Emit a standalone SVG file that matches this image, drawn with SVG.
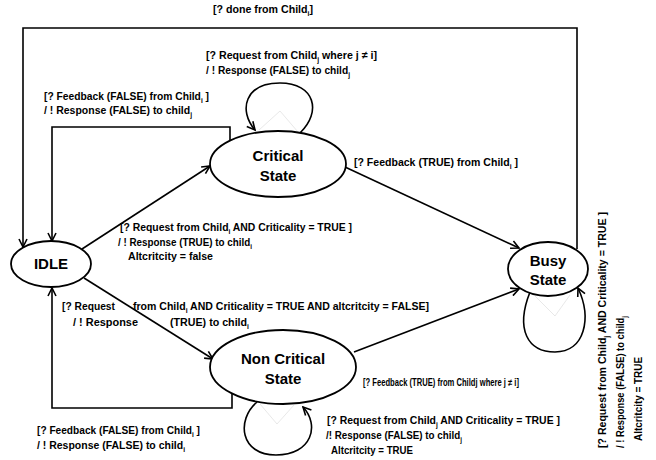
<svg xmlns="http://www.w3.org/2000/svg" width="656" height="460" viewBox="0 0 656 460">
<style>
.node{fill:#fff;stroke:#000;stroke-width:1.8}
.nt{font-family:"Liberation Sans",Arial,sans-serif;font-weight:bold;font-size:15px;text-anchor:middle;fill:#000}
.lb{font-family:"Liberation Sans",Arial,sans-serif;font-weight:bold;font-size:11px;fill:#000}
.s{font-size:7px}
.c{fill:none;stroke:#000;stroke-width:1.6}
.faint{fill:none;stroke:#d8d8d8;stroke-width:0.6}
</style>
<defs>
<marker id="arr" viewBox="0 0 10 10" refX="9" refY="5" markerWidth="10" markerHeight="10" markerUnits="userSpaceOnUse" orient="auto">
<path d="M1,1 L9,5 L1,9" fill="none" stroke="#000" stroke-width="1.6"/>
</marker>
</defs>
<g id="connectors">
<path class="c" d="M577,249 V28 H23 V247" marker-end="url(#arr)"/>
<path class="c" d="M230,141 V127 H52 V241" marker-end="url(#arr)"/>
<path class="c" d="M232,393 V408 H52 V288" marker-end="url(#arr)"/>
<path class="c" d="M82,249 L210,166" marker-end="url(#arr)"/>
<path class="c" d="M84,278 L213,359" marker-end="url(#arr)"/>
<path class="c" d="M345,167 L519,248" marker-end="url(#arr)"/>
<path class="c" d="M354,352 L519,289" marker-end="url(#arr)"/>
<path class="c" d="M300,133 C322,112 315,83 280,83 C245,83 238,110 255,130" marker-end="url(#arr)"/>
<polyline class="faint" points="259,130 280,111 298,132"/>
<path class="c" d="M257,402 C236,420 240,455 276,455 C312,455 320,425 303,407" marker-end="url(#arr)"/>
<polyline class="faint" points="260,404 277,424 294,405"/>
<path class="c" d="M530,292 C515,330 528,352 555,352 C585,352 592,318 578,288" marker-end="url(#arr)"/>
<polyline class="faint" points="535,296 555,316 570,295"/>
</g>
<g id="idle">
<ellipse class="node" cx="51" cy="264" rx="40" ry="23"/>
<text class="nt" x="51" y="269">IDLE</text>
</g>
<g id="critical">
<ellipse class="node" cx="278" cy="164" rx="68" ry="33"/>
<text class="nt" x="278" y="161">Critical</text>
<text class="nt" x="278" y="181">State</text>
</g>
<g id="noncritical">
<ellipse class="node" cx="283" cy="367" rx="73" ry="37"/>
<text class="nt" x="283" y="364">Non Critical</text>
<text class="nt" x="283" y="384">State</text>
</g>
<g id="busy">
<ellipse class="node" cx="548" cy="269" rx="40" ry="27"/>
<text class="nt" x="548" y="266">Busy</text>
<text class="nt" x="548" y="285">State</text>
</g>
<g id="labels">
<text class="lb" x="213" y="13" textLength="100" lengthAdjust="spacingAndGlyphs">[? done from Child<tspan class="s" dy="2.5">i</tspan><tspan dy="-2.5">]</tspan></text>
<text class="lb" x="206" y="59" textLength="171" lengthAdjust="spacingAndGlyphs">[? Request from Child<tspan class="s" dy="2.5">j</tspan><tspan dy="-2.5"> where j ≠ i]</tspan></text>
<text class="lb" x="206" y="74" textLength="144" lengthAdjust="spacingAndGlyphs">/ ! Response (FALSE) to child<tspan class="s" dy="2.5">j</tspan></text>
<text class="lb" x="44" y="100" textLength="165" lengthAdjust="spacingAndGlyphs">[? Feedback (FALSE) from Child<tspan class="s" dy="2.5">i</tspan><tspan dy="-2.5"> ]</tspan></text>
<text class="lb" x="44" y="114" textLength="148" lengthAdjust="spacingAndGlyphs">/ ! Response (FALSE) to child<tspan class="s" dy="2.5">j</tspan></text>
<text class="lb" x="354" y="166" textLength="164" lengthAdjust="spacingAndGlyphs">[? Feedback (TRUE) from Child<tspan class="s" dy="2.5">i</tspan><tspan dy="-2.5">   ]</tspan></text>
<text class="lb" x="120" y="231" textLength="232" lengthAdjust="spacingAndGlyphs">[? Request from Child<tspan class="s" dy="2.5">i</tspan><tspan dy="-2.5"> AND Criticality = TRUE ]</tspan></text>
<text class="lb" x="118" y="246" textLength="134" lengthAdjust="spacingAndGlyphs">/ ! Response (TRUE) to child<tspan class="s" dy="2.5">i</tspan></text>
<text class="lb" x="128" y="260" textLength="85" lengthAdjust="spacingAndGlyphs">Altcritcity = false</text>
<text class="lb" x="62" y="310" textLength="53" lengthAdjust="spacingAndGlyphs">[? Request</text>
<text class="lb" x="133" y="310" textLength="296" lengthAdjust="spacingAndGlyphs">from Child<tspan class="s" dy="2.5">i</tspan><tspan dy="-2.5"> AND Criticality = TRUE AND  altcritcity = FALSE]</tspan></text>
<text class="lb" x="73" y="326" textLength="65" lengthAdjust="spacingAndGlyphs">/ ! Response</text>
<text class="lb" x="170" y="326" textLength="79" lengthAdjust="spacingAndGlyphs">(TRUE) to child<tspan class="s" dy="2.5">i</tspan></text>
<text class="lb" x="363" y="386" textLength="156" lengthAdjust="spacingAndGlyphs" style="font-size:10px">[? Feedback (TRUE) from Childj where j ≠ i]</text>
<text class="lb" x="327" y="424" textLength="233" lengthAdjust="spacingAndGlyphs">[? Request from Child<tspan class="s" dy="2.5">j</tspan><tspan dy="-2.5"> AND Criticality = TRUE ]</tspan></text>
<text class="lb" x="326" y="439" textLength="136" lengthAdjust="spacingAndGlyphs">/! Response (FALSE) to child<tspan class="s" dy="2.5">j</tspan></text>
<text class="lb" x="331" y="454" textLength="82" lengthAdjust="spacingAndGlyphs">Altcritcity = TRUE</text>
<text class="lb" x="37" y="434" textLength="163" lengthAdjust="spacingAndGlyphs">[? Feedback (FALSE) from Child<tspan class="s" dy="2.5">i</tspan><tspan dy="-2.5"> ]</tspan></text>
<text class="lb" x="37" y="449" textLength="148" lengthAdjust="spacingAndGlyphs">/ ! Response (FALSE) to child<tspan class="s" dy="2.5">i</tspan></text>
<text class="lb" transform="translate(606,448) rotate(-90)" x="0" y="0" textLength="236" lengthAdjust="spacingAndGlyphs">[? Request from Child<tspan class="s" dy="2.5">j</tspan><tspan dy="-2.5"> AND Criticality = TRUE ]</tspan></text>
<text class="lb" transform="translate(624,448) rotate(-90)" x="0" y="0" textLength="132" lengthAdjust="spacingAndGlyphs">/ ! Response (FALSE) to child<tspan class="s" dy="2.5">j</tspan></text>
<text class="lb" transform="translate(642,441) rotate(-90)" x="0" y="0" textLength="84" lengthAdjust="spacingAndGlyphs">Altcritcity = TRUE</text>
</g>
</svg>
